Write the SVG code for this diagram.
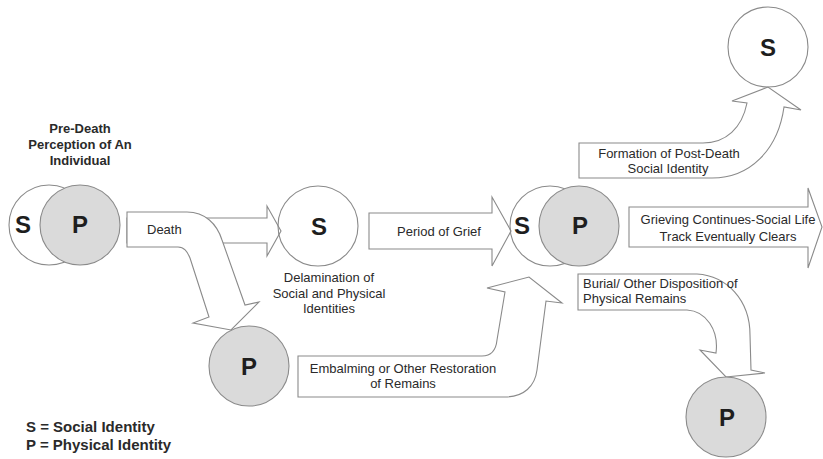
<svg xmlns="http://www.w3.org/2000/svg" width="823" height="459" viewBox="0 0 823 459">
<style>
.arr{fill:#fff;stroke:#8a8a8a;stroke-width:1.1;stroke-linejoin:miter}
.cs{fill:none;stroke:#8a8a8a;stroke-width:1.1}
.cp{fill:#dadada;stroke:#8a8a8a;stroke-width:1.1}
.lt{font-family:"Liberation Sans",Arial,sans-serif;font-weight:bold;font-size:24px;fill:#1e1e1e;text-anchor:middle}
.lb{font-family:"Liberation Sans",Arial,sans-serif;font-size:13px;fill:#2a2a2a}
.c{text-anchor:middle}
.bt{font-family:"Liberation Sans",Arial,sans-serif;font-weight:bold;font-size:13px;fill:#2a2a2a;text-anchor:middle}
.lg{font-family:"Liberation Sans",Arial,sans-serif;font-weight:bold;font-size:15px;fill:#2a2a2a}
</style>
<rect width="823" height="459" fill="#fff"/>
<g id="connectors">
  <g id="death-to-social">
    <path class="arr" d="M127,218 L267,218 L267,206 L281,231 L267,256 L267,243 L127,243 Z"/>
  </g>
  <g id="death-to-physical">
    <path class="arr" d="M127,212 L187,212 C205,212 217,224 222,240 L245,305 L259,302 L231,330 L193,323 L209,317 L190,258 C187,251 184,247 178,247 L127,247 Z"/>
    <text class="lb" x="147" y="234">Death</text>
  </g>
  <g id="grief">
    <path class="arr" d="M369,213 L492,213 L492,197 L511,231 L492,266 L492,249 L369,249 Z"/>
    <text class="lb c" x="439" y="236">Period of Grief</text>
  </g>
  <g id="embalming">
    <path class="arr" d="M298,356 L482,356 C492,356 496,350 497,340 L505,292 L487,288 L529,277 L562,303 L546,301 L537,370 C535,386 524,397 505,397 L298,397 Z"/>
    <text class="lb c" x="403" y="373">Embalming or Other Restoration</text>
    <text class="lb c" x="403" y="388">of Remains</text>
  </g>
  <g id="formation">
    <path class="arr" d="M579,143 L703,143 C726,143 742,128 747,103 L732,101 L768,87 L801,110 L784,107 C778,150 750,178 712,178 L579,178 Z"/>
    <text class="lb c" x="669" y="158">Formation of Post-Death</text>
    <text class="lb c" x="668" y="173">Social Identity</text>
  </g>
  <g id="grieving">
    <path class="arr" d="M629,207 L808,207 L808,188 L822,227 L808,268 L808,247 L629,247 Z"/>
    <text class="lb c" x="728" y="224">Grieving Continues-Social Life</text>
    <text class="lb c" x="728" y="241">Track Eventually Clears</text>
  </g>
  <g id="burial">
    <path class="arr" d="M578,274 L697,274 C727,276 750,300 750,335 L751,370 L765,373 L726,377 L700,350 L716,353 C719,330 706,311 687,310 L578,310 Z"/>
    <text class="lb" x="583" y="288">Burial/ Other Disposition of</text>
    <text class="lb" x="583" y="303">Physical Remains</text>
  </g>
</g>
<g id="pre-death">
  <text class="bt" x="80" y="133">Pre-Death</text>
  <text class="bt" x="80" y="149">Perception of An</text>
  <text class="bt" x="80" y="165">Individual</text>
  <circle class="cs" cx="49" cy="225" r="40"/>
  <circle class="cp" cx="80" cy="225" r="40"/>
  <text class="lt" x="23" y="233">S</text>
  <text class="lt" x="80" y="233">P</text>
</g>
<g id="delaminated-social">
  <circle class="cs" cx="318" cy="226" r="40"/>
  <text class="lt" x="319" y="235">S</text>
  <text class="lb c" x="329" y="282">Delamination of</text>
  <text class="lb c" x="329" y="298">Social and Physical</text>
  <text class="lb c" x="329" y="313">Identities</text>
</g>
<g id="delaminated-physical">
  <circle class="cp" cx="249" cy="366" r="40"/>
  <text class="lt" x="249" y="375">P</text>
</g>
<g id="grief-pair">
  <circle class="cs" cx="550" cy="226" r="40"/>
  <circle class="cp" cx="579" cy="226" r="40"/>
  <text class="lt" x="522" y="234">S</text>
  <text class="lt" x="580" y="234">P</text>
</g>
<g id="post-death-social">
  <circle class="cs" cx="768" cy="47" r="40"/>
  <text class="lt" x="768" y="56">S</text>
</g>
<g id="disposed-physical">
  <circle class="cp" cx="726" cy="417" r="40"/>
  <text class="lt" x="727" y="426">P</text>
</g>
<g id="legend">
  <text class="lg" x="26" y="432">S = Social Identity</text>
  <text class="lg" x="26" y="450">P = Physical Identity</text>
</g>
</svg>
